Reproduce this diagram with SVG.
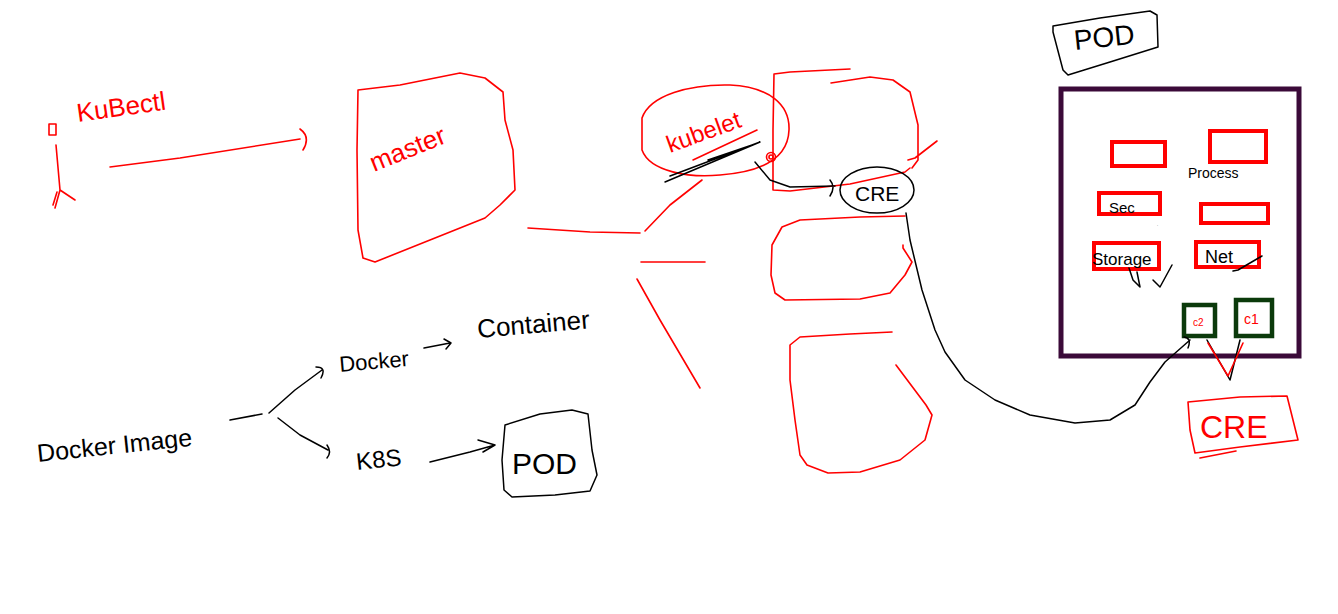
<svg xmlns="http://www.w3.org/2000/svg" width="1338" height="614" viewBox="0 0 1338 614">
<defs>
<style>
.r{fill:none;stroke:#ff0000;stroke-width:1.6;stroke-linecap:round;stroke-linejoin:round}
.k{fill:none;stroke:#000;stroke-width:1.5;stroke-linecap:round;stroke-linejoin:round}
.rb{fill:none;stroke:#ff0000;stroke-width:4}
.gb{fill:none;stroke:#0b3a0b;stroke-width:4.5}
.tr{font-family:"Liberation Sans",Arial,sans-serif;fill:#ff0000}
.tk{font-family:"Liberation Sans",Arial,sans-serif;fill:#000}
</style>
</defs>
<rect width="1338" height="614" fill="#fff"/>

<g id="kubectl">
<rect x="49" y="124" width="7" height="11" class="r"/>
<text class="tr" x="78" y="122" font-size="26" transform="rotate(-8 78 122)">KuBectl</text>
<path class="r" d="M56 145 L60 190 M55 208 L60 190 L75 200 M57 192 L53 205"/>
</g>

<g id="master">
<path class="r" d="M358 90 L400 85 L460 73 L485 78 L503 92 L505 120 L513 150 L515 190 L500 205 L485 218 L430 240 L375 262 L363 258 L358 230 L357 150 Z"/>
<text class="tr" x="374" y="172" font-size="26" transform="rotate(-22 374 172)">master</text>
</g>

<g id="kubelet">
<path class="r" d="M642 118 C650 95 690 84 730 85 C770 87 790 105 789 130 C788 160 760 172 720 175 C690 178 650 172 642 150 Z"/>
<text class="tr" x="670" y="153" font-size="24" transform="rotate(-20 670 153)">kubelet</text>
<path class="r" d="M693 160 L757 130"/>
<path class="k" d="M665 182 L760 142 L670 176 M708 160 L755 144"/>
<circle cx="771" cy="157" r="4.5" class="r"/>
<circle cx="771" cy="157" r="2" class="r"/>
</g>

<g id="node-box1">
<path class="r" d="M850 69 L790 72 L774 74 L773 130 L773 190 L790 191 L850 184 L905 172 L910 168"/>
<path class="r" d="M831 83 L870 77 L893 80 L910 92 L918 125 L918 160 L912 168 M908 160 L915 158 L937 141"/>
</g>

<g id="node-box2">
<path class="r" d="M905 216 L860 217 L800 220 L782 227 L772 245 L771 275 L775 293 L785 300 L860 299 L890 293 L905 275 L912 262 L903 248 L903 245"/>
</g>

<g id="node-box3">
<path class="r" d="M892 332 L850 334 L800 337 L790 345 L790 380 L795 420 L800 455 L807 465 L828 473 L860 472 L900 460 L925 440 L932 415 L926 405 L896 365"/>
</g>

<g id="cre-small">
<ellipse cx="877" cy="190" rx="37" ry="23" class="k" fill="none"/>
<text class="tk" x="855" y="201" font-size="21">CRE</text>
</g>

<g id="pod-top">
<path class="k" d="M1053 26 L1100 18 L1150 11 L1157 15 L1158 47 L1110 62 L1068 75 L1063 70 L1053 32 Z"/>
<text class="tk" x="1075" y="50" font-size="28" transform="rotate(-6 1075 50)">POD</text>
</g>

<g id="pod-big">
<rect x="1061" y="89" width="238" height="267" fill="none" stroke="#3b0a39" stroke-width="5"/>
<rect x="1112" y="142" width="53" height="24" class="rb"/>
<rect x="1210" y="131" width="56" height="31" class="rb"/>
<rect x="1099" y="193" width="61" height="21" class="rb"/>
<rect x="1201" y="204" width="67" height="19" class="rb"/>
<rect x="1094" y="243" width="65" height="26" class="rb"/>
<rect x="1196" y="242" width="63" height="25" class="rb"/>
<text class="tk" x="1188" y="178" font-size="14">Process</text>
<text class="tk" x="1109" y="213" font-size="15">Sec</text>
<text class="tk" x="1092" y="265" font-size="17">Storage</text>
<text class="tk" x="1205" y="263" font-size="18">Net</text>
<path class="k" d="M1129 268 L1133 280 L1140 287 L1137 272 M1153 280 L1160 287 L1172 265 M1233 271 L1238 270 L1262 256"/>
<text class="tk" x="1157" y="226" font-size="4">.</text>
</g>

<g id="c2">
<rect x="1184" y="305" width="31" height="31" class="gb"/>
<text class="tr" x="1193" y="326" font-size="10">c2</text>
</g>
<g id="c1">
<rect x="1236" y="300" width="36" height="36" class="gb"/>
<text class="tr" x="1244" y="324" font-size="14">c1</text>
</g>

<g id="cre-red">
<path class="r" d="M1188 402 L1240 397 L1287 396 L1290 408 L1298 440 L1240 447 L1195 453 L1190 430 Z"/>
<text class="tr" x="1200" y="438" font-size="32">CRE</text>
<path class="r" d="M1200 458 L1236 451"/>
</g>

<g id="docker-image">
<text class="tk" x="38" y="462" font-size="25" transform="rotate(-6 38 462)">Docker Image</text>
</g>
<g id="docker">
<text class="tk" x="340" y="372" font-size="22" transform="rotate(-5 340 372)">Docker</text>
</g>
<g id="container">
<text class="tk" x="478" y="338" font-size="26" transform="rotate(-5 478 338)">Container</text>
</g>
<g id="k8s">
<text class="tk" x="357" y="470" font-size="24" transform="rotate(-6 357 470)">K8S</text>
</g>
<g id="pod-small">
<path class="k" d="M505 425 L540 414 L572 410 L588 414 L592 450 L597 475 L590 491 L555 495 L512 497 L504 490 L502 460 Z"/>
<text class="tk" x="512" y="474" font-size="30">POD</text>
</g>

<g id="connectors">
<path class="r" d="M110 167 L180 158 L300 139 M300 129 Q311 137 303 150"/>
<path class="r" d="M528 228 L590 232 L640 233"/>
<path class="r" d="M645 231 L670 205 L702 180"/>
<path class="r" d="M641 262 L705 262"/>
<path class="r" d="M637 279 L660 320 L700 388"/>
<path class="k" d="M755 162 L770 180 L790 187 L835 186 M830 180 Q836 187 830 196"/>
<path class="k" d="M906 213 L910 240 L922 290 L935 330 L945 352 L965 380 L995 400 L1030 415 L1075 423 L1110 420 L1135 405 L1150 382 L1165 362 L1190 340 M1184 337 Q1192 338 1188 348"/>
<path class="k" d="M1207 340 L1230 380 L1240 340"/>
<path class="r" d="M1208 343 L1228 376 L1243 343"/>
<path class="k" d="M230 420 L262 414 M269 413 L295 390 L322 370 M316 367 Q327 367 321 378"/>
<path class="k" d="M278 418 L300 435 L328 450 M327 445 Q332 452 327 458"/>
<path class="k" d="M424 348 L450 343 M444 339 L451 343 L446 349"/>
<path class="k" d="M430 462 L470 452 L495 445 M478 440 L495 445 L483 452"/>
</g>
</svg>
